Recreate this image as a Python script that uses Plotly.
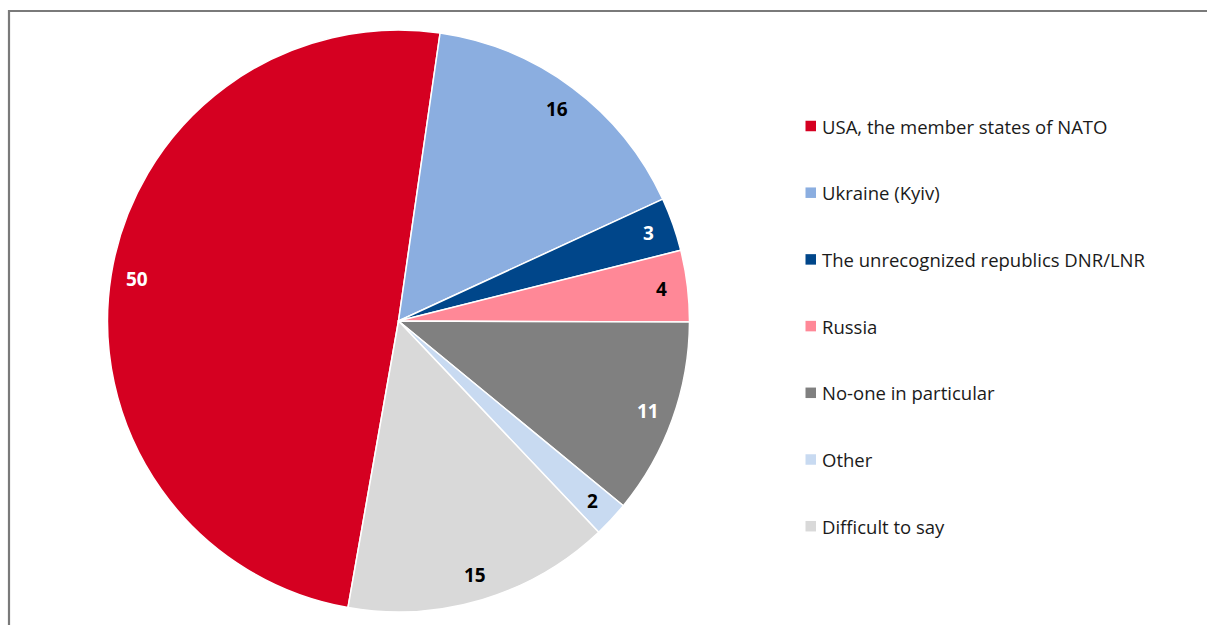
import math
import plotly.graph_objects as go

# Survey answers (percent)
categories = [
    "USA, the member states of NATO",
    "Ukraine (Kyiv)",
    "The unrecognized republics DNR/LNR",
    "Russia",
    "No-one in particular",
    "Other",
    "Difficult to say",
]
values = [50, 16, 3, 4, 11, 2, 15]
colors = ["#D50021", "#8BAEE0", "#00468A", "#FF8897", "#808080", "#C8DAF1", "#D9D9D9"]
label_colors = ["white", "black", "white", "black", "white", "black", "black"]

W, H = 1207, 625
CX, CY, R = 398.5, 321.0, 291.0   # pie centre and radius in pixels
ROTATION = 190                     # start angle of first slice, clockwise from 12 o'clock

fig = go.Figure()
fig.add_trace(go.Pie(
    labels=categories,
    values=values,
    sort=False,
    direction="clockwise",
    rotation=ROTATION,
    marker=dict(colors=colors, line=dict(color="white", width=1.5)),
    textinfo="none",
    hoverinfo="label+value",
    showlegend=False,
    domain=dict(x=[(CX - R) / W, (CX + R) / W], y=[(H - CY - R) / H, (H - CY + R) / H]),
))

# value labels near the outer edge of each slice
total = sum(values)
cum = 0.0
for v, tc in zip(values, label_colors):
    mid = math.radians(ROTATION + 360.0 * (cum + v / 2.0) / total)
    cum += v
    px = CX + 0.91 * R * math.sin(mid)
    py = CY - 0.91 * R * math.cos(mid)
    fig.add_annotation(
        x=px / W, y=1 - py / H, xref="paper", yref="paper",
        text=f"<b>{v}</b>", showarrow=False,
        xanchor="center", yanchor="middle",
        font=dict(family="Open Sans", size=19, color=tc),
    )

# legend: coloured squares with labels
LEG_X, LEG_Y0, LEG_DY, SQ = 805.5, 126.0, 66.7, 10.5
for i, (name, c) in enumerate(zip(categories, colors)):
    y = LEG_Y0 + i * LEG_DY
    fig.add_shape(
        type="rect", xref="paper", yref="paper",
        x0=LEG_X / W, x1=(LEG_X + SQ) / W,
        y0=1 - (y + SQ / 2) / H, y1=1 - (y - SQ / 2) / H,
        fillcolor=c, line=dict(width=0),
    )
    fig.add_annotation(
        x=(LEG_X + SQ + 4) / W, y=1 - y / H, xref="paper", yref="paper",
        text=name, showarrow=False, xanchor="left", yanchor="middle",
        font=dict(family="Open Sans", size=18.5, color="#1a1a1a"),
    )

# chart frame
fig.add_shape(
    type="rect", xref="paper", yref="paper",
    x0=9 / W, x1=1.02, y0=-0.02, y1=1 - 11 / H,
    line=dict(color="#7a7a7a", width=2.2), fillcolor="rgba(0,0,0,0)",
)

fig.update_layout(
    width=W, height=H,
    margin=dict(l=0, r=0, t=0, b=0),
    paper_bgcolor="white",
    plot_bgcolor="white",
)

fig.write_html("out.html")
